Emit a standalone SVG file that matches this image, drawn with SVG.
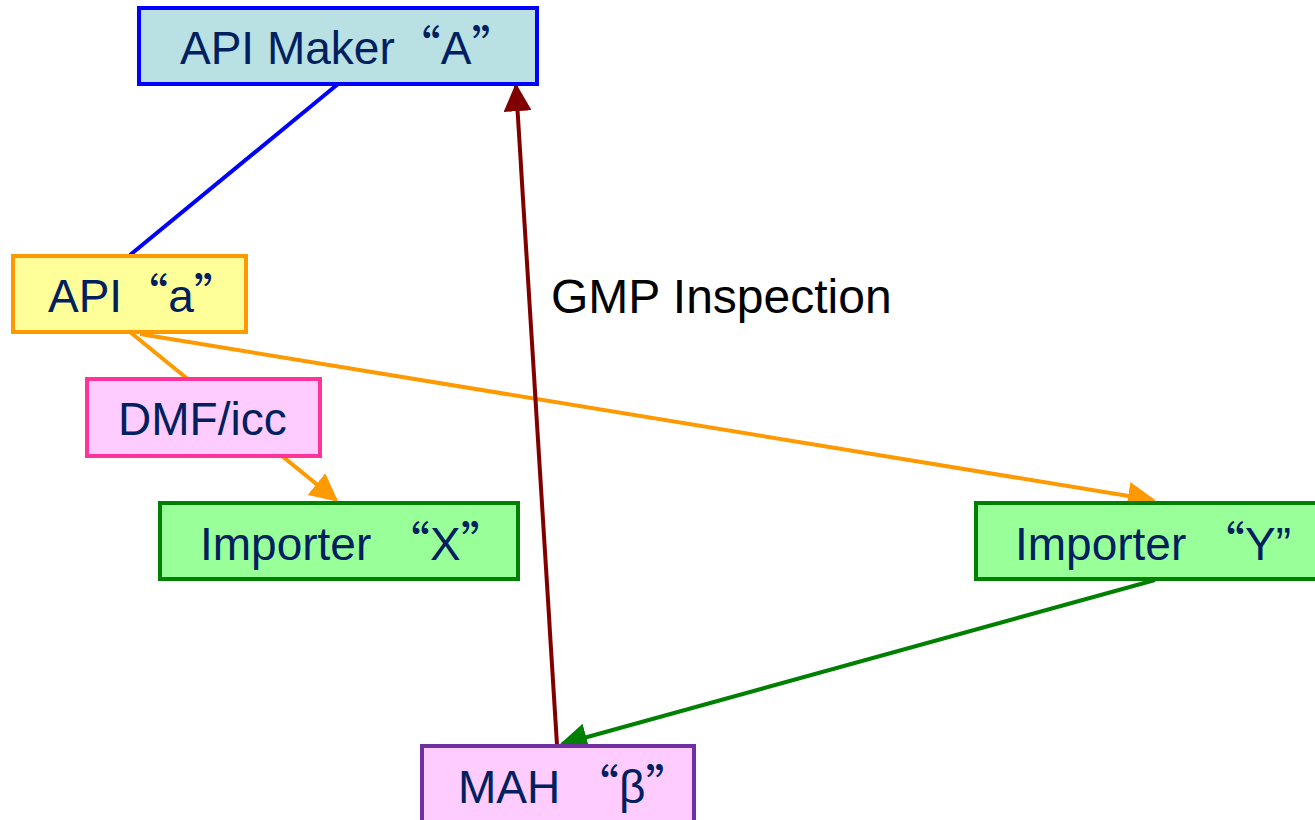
<svg xmlns="http://www.w3.org/2000/svg" width="1315" height="820" viewBox="0 0 1315 820">
<style>
.box{stroke-width:4}
.lbl{font-family:"Liberation Sans",Arial,sans-serif;font-size:46px;fill:#002060}
.q{font-family:"Noto Sans CJK SC","Liberation Sans",sans-serif}
.conn{fill:none;stroke-width:4}
</style>
<defs>
<marker id="aO" viewBox="0 0 10 10" refX="9" refY="5" markerWidth="7" markerHeight="7" markerUnits="strokeWidth" orient="auto"><path d="M0,0 L10,5 L0,10 z" fill="#ff9900"/></marker>
<marker id="aG" viewBox="0 0 10 10" refX="9" refY="5" markerWidth="7" markerHeight="7" markerUnits="strokeWidth" orient="auto"><path d="M0,0 L10,5 L0,10 z" fill="#008000"/></marker>
<marker id="aR" viewBox="0 0 10 10" refX="9" refY="5" markerWidth="7" markerHeight="7" markerUnits="strokeWidth" orient="auto"><path d="M0,0 L10,5 L0,10 z" fill="#800000"/></marker>
</defs>
<rect width="1315" height="820" fill="#ffffff"/>
<g id="connectors">
<line class="conn" x1="338" y1="84" x2="130" y2="255" stroke="#0000ff"/>
<line class="conn" x1="130" y1="332" x2="336" y2="500" stroke="#ff9900" marker-end="url(#aO)"/>
<line class="conn" x1="140" y1="334" x2="1153" y2="500" stroke="#ff9900" marker-end="url(#aO)"/>
<line class="conn" x1="1155" y1="580" x2="562" y2="744" stroke="#008000" marker-end="url(#aG)"/>
<line class="conn" x1="557" y1="745" x2="516" y2="86" stroke="#800000" marker-end="url(#aR)"/>
<text x="551" y="313" font-family="Liberation Sans, Arial, sans-serif" font-size="48" fill="#000000">GMP Inspection</text>
</g>
<g id="apiMaker">
<rect class="box" x="139" y="8" width="398" height="76" fill="#b9e0e3" stroke="#0000ff"/>
<text class="lbl" x="180" y="64">API Maker<tspan class="q">“</tspan>A<tspan class="q">”</tspan></text>
</g>
<g id="apiA">
<rect class="box" x="13" y="256" width="233" height="76" fill="#ffff99" stroke="#ff9900"/>
<text class="lbl" x="48" y="312">API<tspan class="q">“</tspan>a<tspan class="q">”</tspan></text>
</g>
<g id="dmf">
<rect class="box" x="87" y="379" width="233" height="77" fill="#ffccff" stroke="#ff3399"/>
<text class="lbl" x="118" y="435">DMF/icc</text>
</g>
<g id="importerX">
<rect class="box" x="160" y="503" width="358" height="76" fill="#99ff99" stroke="#008000"/>
<text class="lbl" x="200" y="560">Importer <tspan class="q">“</tspan>X<tspan class="q">”</tspan></text>
</g>
<g id="importerY">
<rect class="box" x="976" y="503" width="345" height="76" fill="#99ff99" stroke="#008000"/>
<text class="lbl" x="1015" y="560">Importer <tspan class="q">“</tspan>Y”</text>
</g>
<g id="mah">
<rect class="box" x="422" y="746" width="272" height="80" fill="#ffccff" stroke="#7030a0"/>
<text class="lbl" x="458" y="803">MAH <tspan class="q">“</tspan>β<tspan class="q">”</tspan></text>
</g>
</svg>
